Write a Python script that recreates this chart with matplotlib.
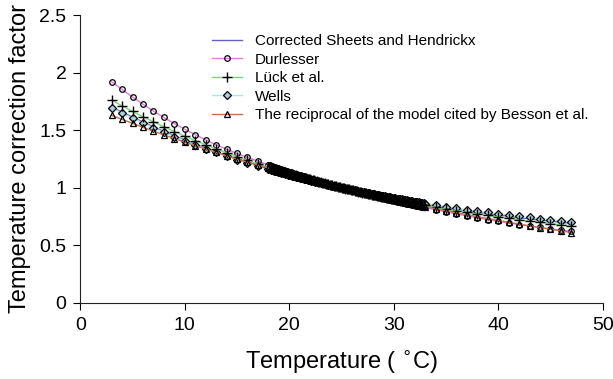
import matplotlib
matplotlib.use("Agg")
from matplotlib import pyplot as plt
from matplotlib.ticker import FormatStrFormatter

plt.rcParams['font.family'] = ['Liberation Sans', 'DejaVu Sans']

# temperature grid: whole degrees outside, eighths of a degree from 18 to 33
temp_left = list(range(3, 18))
temp_dense = [18 + 0.125 * i for i in range(121)]
temp_right = list(range(34, 48))
temperature = temp_left + temp_dense + temp_right

sheets = [
    1.702, 1.656, 1.612, 1.569, 1.528, 1.488, 1.450, 1.414, 1.378, 1.344, 1.311, 1.280, 1.249, 1.220, 1.192,
    1.164, 1.161, 1.158, 1.154, 1.151, 1.148, 1.145, 1.141,
    1.138, 1.135, 1.132, 1.128, 1.125, 1.122, 1.119, 1.116,
    1.113, 1.110, 1.107, 1.104, 1.101, 1.097, 1.094, 1.091,
    1.088, 1.085, 1.082, 1.080, 1.077, 1.074, 1.071, 1.068,
    1.065, 1.062, 1.059, 1.057, 1.054, 1.051, 1.048, 1.045,
    1.042, 1.040, 1.037, 1.034, 1.031, 1.029, 1.026, 1.024,
    1.021, 1.018, 1.015, 1.013, 1.010, 1.008, 1.005, 1.003,
    1.000, 0.997, 0.994, 0.992, 0.989, 0.987, 0.984, 0.982,
    0.979, 0.977, 0.974, 0.972, 0.970, 0.968, 0.965, 0.963,
    0.960, 0.958, 0.955, 0.953, 0.950, 0.948, 0.946, 0.944,
    0.941, 0.939, 0.936, 0.934, 0.932, 0.930, 0.927, 0.925,
    0.923, 0.921, 0.919, 0.917, 0.914, 0.912, 0.910, 0.908,
    0.906, 0.904, 0.901, 0.899, 0.897, 0.895, 0.893, 0.891,
    0.889, 0.887, 0.885, 0.883, 0.881, 0.879, 0.877, 0.875,
    0.873, 0.871, 0.869, 0.867, 0.865, 0.863, 0.861, 0.859,
    0.857,
    0.842, 0.828, 0.814, 0.800, 0.787, 0.775, 0.763, 0.751, 0.740, 0.729, 0.719, 0.709, 0.699, 0.690,
]
durlesser = [
    1.920, 1.854, 1.787, 1.725, 1.665, 1.610, 1.557, 1.507, 1.460, 1.415, 1.373, 1.334, 1.297, 1.262, 1.229,
    1.197, 1.193, 1.189, 1.186, 1.182, 1.178, 1.174, 1.170,
    1.166, 1.163, 1.159, 1.155, 1.151, 1.148, 1.144, 1.140,
    1.136, 1.133, 1.129, 1.126, 1.122, 1.118, 1.114, 1.111,
    1.107, 1.104, 1.100, 1.097, 1.093, 1.090, 1.086, 1.083,
    1.079, 1.076, 1.072, 1.069, 1.066, 1.063, 1.059, 1.056,
    1.052, 1.049, 1.045, 1.042, 1.039, 1.036, 1.032, 1.029,
    1.026, 1.023, 1.019, 1.016, 1.013, 1.010, 1.006, 1.003,
    1.000, 0.997, 0.994, 0.991, 0.988, 0.985, 0.982, 0.979,
    0.975, 0.972, 0.969, 0.967, 0.964, 0.961, 0.958, 0.955,
    0.952, 0.949, 0.946, 0.943, 0.940, 0.938, 0.935, 0.932,
    0.929, 0.926, 0.923, 0.921, 0.918, 0.915, 0.912, 0.910,
    0.907, 0.905, 0.902, 0.899, 0.896, 0.894, 0.891, 0.889,
    0.886, 0.884, 0.881, 0.879, 0.876, 0.874, 0.871, 0.869,
    0.866, 0.864, 0.861, 0.859, 0.856, 0.854, 0.851, 0.849,
    0.846, 0.844, 0.842, 0.840, 0.837, 0.835, 0.833, 0.831,
    0.828,
    0.808, 0.789, 0.771, 0.754, 0.738, 0.722, 0.707, 0.693, 0.679, 0.666, 0.654, 0.642, 0.631, 0.620,
]
lueck = [
    1.760, 1.710, 1.662, 1.616, 1.572, 1.529, 1.487, 1.448, 1.409, 1.373, 1.337, 1.303, 1.270, 1.238, 1.207,
    1.178, 1.175, 1.171, 1.168, 1.164, 1.161, 1.157, 1.154,
    1.150, 1.147, 1.143, 1.140, 1.136, 1.133, 1.129, 1.126,
    1.122, 1.119, 1.116, 1.113, 1.109, 1.106, 1.103, 1.100,
    1.096, 1.093, 1.090, 1.087, 1.083, 1.080, 1.077, 1.074,
    1.071, 1.068, 1.065, 1.062, 1.058, 1.055, 1.052, 1.049,
    1.046, 1.043, 1.040, 1.037, 1.034, 1.032, 1.029, 1.026,
    1.023, 1.020, 1.017, 1.014, 1.011, 1.009, 1.006, 1.003,
    1.000, 0.998, 0.995, 0.992, 0.989, 0.987, 0.984, 0.981,
    0.978, 0.976, 0.973, 0.971, 0.968, 0.965, 0.962, 0.960,
    0.957, 0.955, 0.952, 0.950, 0.947, 0.945, 0.942, 0.940,
    0.937, 0.935, 0.932, 0.930, 0.927, 0.925, 0.922, 0.920,
    0.917, 0.915, 0.913, 0.911, 0.908, 0.906, 0.903, 0.901,
    0.899, 0.897, 0.894, 0.892, 0.890, 0.888, 0.885, 0.883,
    0.881, 0.879, 0.876, 0.874, 0.872, 0.870, 0.867, 0.865,
    0.863, 0.861, 0.859, 0.857, 0.855, 0.853, 0.851, 0.849,
    0.846,
    0.830, 0.815, 0.800, 0.785, 0.771, 0.758, 0.745, 0.733, 0.721, 0.709, 0.698, 0.687, 0.677, 0.667,
]
wells = [
    1.694, 1.648, 1.604, 1.562, 1.521, 1.481, 1.443, 1.407, 1.372, 1.338, 1.306, 1.274, 1.244, 1.215, 1.188,
    1.161, 1.158, 1.154, 1.151, 1.148, 1.145, 1.142, 1.138,
    1.135, 1.132, 1.129, 1.126, 1.123, 1.120, 1.117, 1.114,
    1.110, 1.107, 1.104, 1.101, 1.098, 1.095, 1.092, 1.090,
    1.087, 1.084, 1.081, 1.078, 1.075, 1.072, 1.069, 1.067,
    1.064, 1.061, 1.058, 1.056, 1.053, 1.050, 1.047, 1.045,
    1.042, 1.039, 1.036, 1.034, 1.031, 1.029, 1.026, 1.023,
    1.020, 1.018, 1.015, 1.013, 1.010, 1.008, 1.005, 1.003,
    1.000, 0.998, 0.995, 0.993, 0.990, 0.988, 0.985, 0.983,
    0.980, 0.978, 0.976, 0.974, 0.971, 0.969, 0.966, 0.964,
    0.962, 0.960, 0.957, 0.955, 0.952, 0.950, 0.948, 0.946,
    0.943, 0.941, 0.939, 0.937, 0.935, 0.933, 0.930, 0.928,
    0.926, 0.924, 0.922, 0.920, 0.918, 0.916, 0.913, 0.911,
    0.909, 0.907, 0.905, 0.903, 0.901, 0.899, 0.897, 0.895,
    0.893, 0.891, 0.889, 0.887, 0.885, 0.883, 0.881, 0.879,
    0.877, 0.876, 0.874, 0.872, 0.870, 0.868, 0.866, 0.864,
    0.862,
    0.848, 0.834, 0.821, 0.808, 0.796, 0.784, 0.773, 0.762, 0.751, 0.741, 0.731, 0.722, 0.713, 0.704,
]
besson = [
    1.628, 1.593, 1.558, 1.524, 1.491, 1.458, 1.426, 1.395, 1.365, 1.335, 1.306, 1.277, 1.249, 1.222, 1.195,
    1.168, 1.165, 1.162, 1.159, 1.156, 1.153, 1.149, 1.146,
    1.143, 1.140, 1.137, 1.134, 1.130, 1.127, 1.124, 1.121,
    1.118, 1.115, 1.112, 1.109, 1.105, 1.102, 1.099, 1.096,
    1.093, 1.090, 1.087, 1.084, 1.081, 1.078, 1.075, 1.072,
    1.069, 1.066, 1.063, 1.060, 1.057, 1.054, 1.051, 1.049,
    1.046, 1.043, 1.040, 1.037, 1.034, 1.031, 1.028, 1.026,
    1.023, 1.020, 1.017, 1.014, 1.011, 1.009, 1.006, 1.003,
    1.000, 0.998, 0.995, 0.992, 0.989, 0.987, 0.984, 0.981,
    0.978, 0.976, 0.973, 0.970, 0.967, 0.965, 0.962, 0.959,
    0.956, 0.954, 0.951, 0.949, 0.946, 0.944, 0.941, 0.938,
    0.935, 0.933, 0.930, 0.928, 0.925, 0.923, 0.920, 0.918,
    0.915, 0.913, 0.910, 0.907, 0.904, 0.902, 0.899, 0.897,
    0.894, 0.892, 0.889, 0.887, 0.885, 0.883, 0.880, 0.878,
    0.875, 0.873, 0.870, 0.868, 0.865, 0.863, 0.860, 0.858,
    0.855, 0.853, 0.850, 0.848, 0.846, 0.844, 0.841, 0.839,
    0.836,
    0.818, 0.800, 0.782, 0.765, 0.748, 0.731, 0.715, 0.699, 0.683, 0.668, 0.653, 0.638, 0.624, 0.610,
]

labels = ['Corrected Sheets and Hendrickx', 'Durlesser', 'L\u00fcck et al.', 'Wells',
          'The reciprocal of the model cited by Besson et al.']

fig = plt.figure(figsize=(6.13, 3.79), dpi=100)
ax = fig.add_axes([0.131, 0.2013, 0.8522, 0.7591])

ax.plot(temperature, sheets, color='#6a5fc8', lw=1.0, label=labels[0])
ax.plot(temperature, wells, color='#a8e8ec', lw=1.0, marker='D', ms=4.4,
        mfc='#a9cfe0', mec='black', mew=0.9, label=labels[3])
ax.plot(temperature, durlesser, color='#e07ee0', lw=1.0, marker='o', ms=4.0,
        mfc='none', mec='black', mew=0.9, label=labels[1])
ax.plot(temperature, lueck, color='#7ad87a', lw=1.0, marker='+', ms=7.5,
        mec='black', mew=1.0, label=labels[2])
ax.plot(temperature, besson, color='#c8704c', lw=1.0, marker='^', ms=4.4,
        mfc='none', mec='black', mew=0.9, label=labels[4])

ax.set_xlim(0, 50)
ax.set_ylim(0, 2.5)
ax.set_xticks(range(0, 51, 10))
ax.set_yticks([0, 0.5, 1, 1.5, 2, 2.5])
ax.yaxis.set_major_formatter(FormatStrFormatter('%g'))
ax.tick_params(labelsize=14, length=5, width=0.8, direction='out', pad=5)
for side in ('top', 'right'):
    ax.spines[side].set_visible(False)
for side in ('left', 'bottom'):
    ax.spines[side].set_linewidth(0.8)
    ax.spines[side].set_color('#222222')

ax.set_xlabel('Temperature ( $^{\\circ}$C)', fontsize=17, labelpad=11)
ax.set_ylabel('Temperature correction factor', fontsize=17, labelpad=6)

# keep the legend in the order the models are listed
handles, names = ax.get_legend_handles_labels()
order = [names.index(lab) for lab in labels]
ax.legend([handles[i] for i in order], [names[i] for i in order],
          loc='upper left', bbox_to_anchor=(0.24, 0.955), frameon=False,
          fontsize=11, numpoints=1, handlelength=2.0, labelspacing=0.3,
          borderaxespad=0)

fig.savefig('out.png', dpi=100)
